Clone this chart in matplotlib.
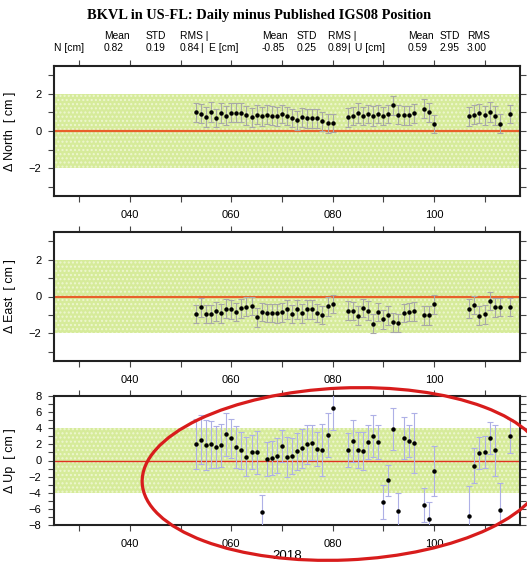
import numpy as np
import matplotlib
matplotlib.use("Agg")
import matplotlib.pyplot as plt
from matplotlib.patches import Ellipse
from matplotlib.ticker import MultipleLocator, FixedLocator, FuncFormatter

plt.rcParams['font.family'] = ['Liberation Sans', 'DejaVu Sans']

# ── data (day of year 2018) ──────────────────────────────────────────────────
days = ([d for d in range(53, 81)] + [d for d in range(83, 97)]
        + [98, 99, 100] + [d for d in range(107, 114)] + [115])

north = [1.01, 0.94, 0.77, 1.03, 0.70, 0.97, 0.83, 0.99, 0.99, 0.99, 0.85, 0.74, 0.88, 0.79,
         0.88, 0.83, 0.79, 0.92, 0.81, 0.70, 0.58, 0.74, 0.68, 0.68, 0.68, 0.52, 0.41, 0.43,
         0.74, 0.81, 0.97, 0.81, 0.92, 0.81, 0.92, 0.81, 0.92, 1.39, 0.88, 0.85, 0.85, 0.95,
         1.21, 1.01, 0.38,
         0.79, 0.88, 0.95, 0.85, 1.03, 0.83, 0.40,
         0.92]
north_err = [0.50, 0.50, 0.54, 0.54, 0.50, 0.52, 0.50, 0.50, 0.52, 0.52, 0.50, 0.50, 0.52, 0.50,
             0.50, 0.50, 0.52, 0.50, 0.50, 0.50, 0.52, 0.50, 0.50, 0.50, 0.50, 0.50, 0.52, 0.50,
             0.50, 0.50, 0.52, 0.50, 0.50, 0.52, 0.50, 0.50, 0.50, 0.52, 0.50, 0.50, 0.50, 0.50,
             0.50, 0.50, 0.50,
             0.50, 0.50, 0.52, 0.50, 0.52, 0.50, 0.50,
             0.50]

east = [-0.95, -0.59, -0.95, -0.95, -0.81, -0.92, -0.67, -0.70, -0.85, -0.63, -0.56, -0.52, -1.12, -0.85,
        -0.88, -0.88, -0.92, -0.85, -0.70, -0.95, -0.70, -0.92, -0.70, -0.70, -0.88, -0.99, -0.52, -0.41,
        -0.76, -0.79, -1.05, -0.63, -0.76, -1.48, -0.85, -1.23, -1.03, -1.41, -1.44, -0.88, -0.85, -0.81,
        -1.03, -1.03, -0.43,
        -0.67, -0.45, -1.05, -0.97, -0.23, -0.58, -0.58,
        -0.58]
east_err = [0.50, 0.52, 0.50, 0.50, 0.52, 0.50, 0.52, 0.50, 0.50, 0.52, 0.52, 0.50, 0.52, 0.50,
            0.50, 0.50, 0.50, 0.52, 0.50, 0.50, 0.50, 0.50, 0.52, 0.50, 0.50, 0.50, 0.52, 0.50,
            0.50, 0.50, 0.52, 0.50, 0.50, 0.52, 0.50, 0.52, 0.50, 0.52, 0.50, 0.50, 0.50, 0.50,
            0.50, 0.50, 0.50,
            0.52, 0.50, 0.52, 0.50, 0.50, 0.52, 0.50,
            0.50]

up = [2.00, 2.60, 1.88, 2.00, 1.71, 1.88, 3.24, 2.75, 1.67, 1.26, 0.48, 1.10, 1.01, -6.34,
      0.21, 0.33, 0.62, 1.84, 0.43, 0.56, 1.16, 1.49, 2.00, 2.23, 1.43, 1.30, 3.14, 6.50,
      1.34, 2.42, 1.30, 1.18, 2.25, 3.08, 2.25, -5.20, -2.46, 3.90, -6.22, 2.75, 2.42, 2.13,
      -5.50, -7.25, -1.26,
      -6.84, -0.64, 0.93, 1.10, 2.83, 1.26, -6.14,
      3.04]
up_err = [3.1, 3.0, 3.1, 2.9, 2.6, 2.7, 2.7, 2.4, 2.6, 2.3, 2.4, 2.1, 2.7, 2.1,
          2.1, 2.1, 2.2, 2.0, 2.5, 2.2, 2.3, 2.4, 2.4, 2.2, 2.1, 3.2, 2.7, 2.7,
          2.1, 2.6, 2.2, 2.3, 2.1, 2.6, 2.1, 2.1, 1.9, 2.6, 2.2, 2.6, 2.0, 3.7,
          2.1, 2.1, 3.1,
          3.7, 2.2, 2.0, 2.0, 2.0, 3.2, 3.3,
          2.1]

stat_names = ['N [cm]', 'E [cm]', 'U [cm]']
stat_values = [[0.82, 0.19, 0.84], [-0.85, 0.25, 0.89], [0.59, 2.95, 3.00]]

title = "BKVL in US-FL: Daily minus Published IGS08 Position"
year_label = "2018"

# ── figure ───────────────────────────────────────────────────────────────────
W, H = 527, 562
fig = plt.figure(figsize=(W / 100, H / 100), dpi=100, facecolor='white')


def px_axes(left, top, right, bottom):
    return fig.add_axes([left / W, 1 - bottom / H, (right - left) / W, (bottom - top) / H])


BAND = '#d6eb9a'
panels = [
    (66, 196, north, north_err, u'\u0394 North  [ cm ]', 3.5, 2, '#a8a8a8', '#e8602a', 1.6),
    (232, 361, east, east_err, u'\u0394 East  [ cm ]', 3.5, 2, '#a8a8a8', '#e8602a', 1.6),
    (396, 525, up, up_err, u'\u0394 Up  [ cm ]', 8, 4, '#aeb0e6', '#e03020', 1.0),
]

for top, bottom, vals, errs, ylab, ylim, band, ecol, zcol, zlw in panels:
    ax = px_axes(54, top, 520, bottom)
    ax.axhspan(-band, band, facecolor=BAND, edgecolor='#eef7d0', hatch='....', lw=0, zorder=0)
    ax.axhline(0, color=zcol, lw=zlw, zorder=1)
    ax.errorbar(days, vals, yerr=errs, fmt='o', ms=2.2, color='black', mec='black',
                ecolor=ecol, elinewidth=0.8, capsize=2.2, capthick=0.8, zorder=3)
    ax.set_xlim(25, 117)
    ax.set_ylim(-ylim, ylim)

    ax.xaxis.set_major_locator(FixedLocator([40, 60, 80, 100]))
    ax.xaxis.set_minor_locator(FixedLocator([30, 50, 70, 90, 110]))
    ax.xaxis.set_major_formatter(FuncFormatter(lambda v, p: f'{int(v):03d}'))
    ax.yaxis.set_major_locator(MultipleLocator(2))
    ax.yaxis.set_minor_locator(MultipleLocator(1))
    ax.tick_params(which='both', direction='out', top=True, right=True,
                   length=4, width=0.8, color='#444444', labelsize=8, pad=6)
    ax.tick_params(axis='y', which='major', pad=5)
    for s in ax.spines.values():
        s.set_linewidth(1.5)
        s.set_color('#222222')
    ax.set_ylabel(ylab, fontsize=9)
    ax.yaxis.set_label_coords(-0.082, 0.5)

ax.set_xlabel(year_label, fontsize=9.5, labelpad=1)

# ── header ───────────────────────────────────────────────────────────────────
fig.text(259 / W, 1 - 16 / H, title, ha='center', va='center', fontsize=10.4,
         fontweight='bold', family=['Liberation Serif', 'DejaVu Serif'])

hdr_x = [[104, 146, 180], [262, 297, 328], [408, 440, 467]]
hdr_txt = ['Mean', 'STD', 'RMS']
name_x = [54, 209, 355]
bar_x = [200, 347]
FS = 7.4
for i in range(3):
    for j in range(3):
        lab = hdr_txt[j] + (' |' if (j == 2 and i < 2) else '')
        fig.text(hdr_x[i][j] / W, 1 - 36 / H, lab, ha='left', va='center', fontsize=FS)
        fig.text(hdr_x[i][j] / W, 1 - 48 / H, f'{stat_values[i][j]:.2f}', ha='left',
                 va='center', fontsize=FS)
    fig.text(name_x[i] / W, 1 - 48 / H, stat_names[i], ha='left', va='center', fontsize=FS)
for bx in bar_x:
    fig.text(bx / W, 1 - 48 / H, '|', ha='left', va='center', fontsize=FS)

# ── red highlight ellipse ────────────────────────────────────────────────────
ell = Ellipse((344 / 100, (H - 474) / 100), 4.04, 1.72, angle=2.5,
              transform=fig.dpi_scale_trans, fill=False, edgecolor='#d81c1c', lw=2.3,
              zorder=10)
fig.add_artist(ell)

fig.savefig('out.png', dpi=100, facecolor='white')
